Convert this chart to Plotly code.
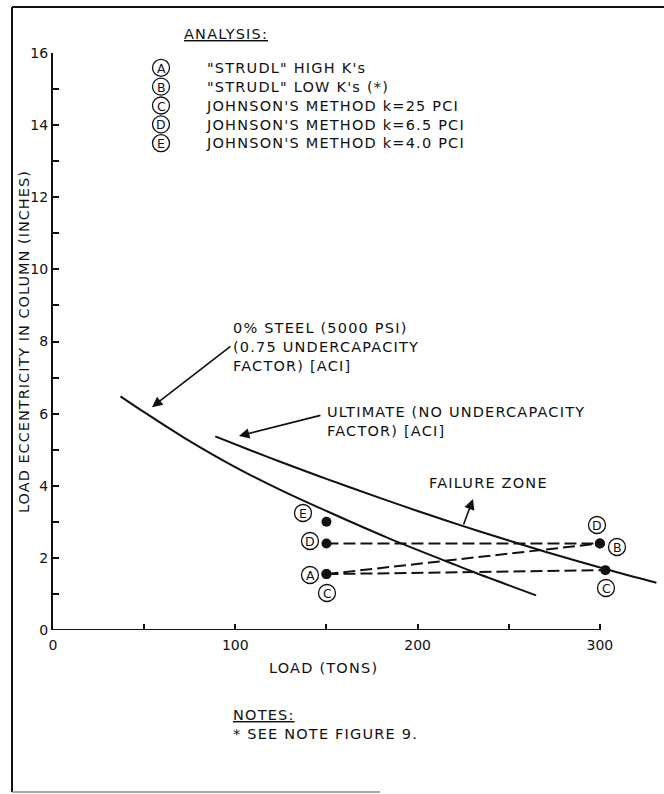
import plotly.graph_objects as go

# ---- data ----
steel_x = [37, 50, 72, 101, 125, 150, 183, 217, 231, 265]
steel_y = [6.48, 6.04, 5.33, 4.49, 3.88, 3.30, 2.57, 1.88, 1.60, 0.96]

ult_x = [89, 110, 125, 150, 180, 200, 225, 250, 270, 303, 331]
ult_y = [5.37, 4.95, 4.66, 4.19, 3.65, 3.30, 2.88, 2.48, 2.17, 1.69, 1.31]

# analysis results (load in tons, eccentricity in inches)
line_D_x = [150, 300]
line_D_y = [2.4, 2.4]
line_AB_x = [150, 300]
line_AB_y = [1.55, 2.4]
line_C_x = [150, 303]
line_C_y = [1.55, 1.66]
point_E_x = [150]
point_E_y = [3.0]

x_tickvals = [0, 50, 100, 150, 200, 250, 300]
x_ticktext = ["0", "", "100", "", "200", "", "300"]
y_tickvals = list(range(0, 17))
y_ticktext = [str(v) if v % 2 == 0 else "" for v in y_tickvals]

legend_letters = ["A", "B", "C", "D", "E"]
legend_texts = ['"STRUDL" HIGH K\'s', '"STRUDL" LOW K\'s (*)',
                "JOHNSON'S METHOD k=25 PCI", "JOHNSON'S METHOD k=6.5 PCI",
                "JOHNSON'S METHOD k=4.0 PCI"]

# ---- layout geometry (pixels) ----
W, H = 664, 794
L, R, T, B = 53, 0, 53, 164
PW, PH = W - L - R, H - T - B
XMAX = PW / 1.823


def px(xp):
    return (xp - L) / PW


def py(yp):
    return (H - B - yp) / PH


FONT = "DejaVu Sans"
BLACK = "#111111"
FS = 14.5
LS = 1.2


def sp(text, ls=LS):
    return '<span style="letter-spacing:%.1fpx">%s</span>' % (ls, text)


def lines(*ls):
    return "<br>".join(sp(l) for l in ls)


fig = go.Figure()

for xs, ys in [(steel_x, steel_y), (ult_x, ult_y)]:
    fig.add_trace(go.Scatter(x=xs, y=ys, mode="lines",
                             line=dict(color=BLACK, width=2, shape="spline", smoothing=1.0),
                             hoverinfo="skip", showlegend=False))

for xs, ys in [(line_D_x, line_D_y), (line_AB_x, line_AB_y), (line_C_x, line_C_y)]:
    fig.add_trace(go.Scatter(x=xs, y=ys, mode="lines+markers",
                             line=dict(color=BLACK, width=2, dash="12px,5px"),
                             marker=dict(color=BLACK, size=10),
                             hoverinfo="skip", showlegend=False))

fig.add_trace(go.Scatter(x=point_E_x, y=point_E_y, mode="markers",
                         marker=dict(color=BLACK, size=10),
                         hoverinfo="skip", showlegend=False))

annots = []
shapes = []


def txt(text, xp, yp, size=FS, xanchor="left", **kw):
    annots.append(dict(text=text, x=px(xp), y=py(yp), xref="paper", yref="paper",
                       xanchor=xanchor, yanchor="middle", showarrow=False, align="left",
                       font=dict(family=FONT, size=size, color=BLACK), **kw))


def circled(letter, xp, yp, r=8.5, size=12.5):
    shapes.append(dict(type="circle", xref="paper", yref="paper",
                       x0=px(xp - r), x1=px(xp + r), y0=py(yp + r), y1=py(yp - r),
                       line=dict(color=BLACK, width=1.3)))
    txt(letter, xp, yp + 0.5, size=size, xanchor="center")


txt("<u>" + sp("ANALYSIS:") + "</u>", 182, 34)

# legend block
LEG_C = 105.5
LEG_STEP = FS * 1.3
leg_y = [LEG_C + (i - 2) * LEG_STEP for i in range(5)]
for letter, yy in zip(legend_letters, leg_y):
    circled(letter, 161, yy)
txt(lines(*legend_texts), 204, LEG_C)

txt(lines("0% STEEL (5000 PSI)", "(0.75 UNDERCAPACITY", "FACTOR) [ACI]"), 231, 347)
txt(lines("ULTIMATE (NO UNDERCAPACITY", "FACTOR) [ACI]"), 325, 422)
txt(sp("FAILURE ZONE"), 427, 483)
txt(sp("LOAD (TONS)"), 323, 668, xanchor="center")
txt("<u>" + sp("NOTES:") + "</u><br>" + sp("* SEE NOTE FIGURE 9."), 231, 724)
txt(sp("LOAD ECCENTRICITY IN COLUMN (INCHES)", 1.0), 24, 342, xanchor="center", textangle=-90)

# point labels
for letter, xx, yy in [("E", 303, 513), ("D", 310, 541), ("A", 310, 575), ("C", 327, 593),
                       ("D", 597, 525), ("B", 617, 547), ("C", 606, 588)]:
    circled(letter, xx, yy)

# arrows (tip in data coords, tail offset in pixels)
for tip_x, tip_y, ax, ay in [(54.3, 6.18, 80, -62), (102, 5.38, 83, -21), (230.4, 3.63, -10, 27)]:
    annots.append(dict(text="", x=tip_x, y=tip_y, xref="x", yref="y", ax=ax, ay=ay,
                       showarrow=True, arrowhead=2, arrowsize=1.3, arrowwidth=1.6,
                       arrowcolor=BLACK))

shapes += [
    # x axis line ending at 300 tons
    dict(type="line", xref="x", yref="y", x0=0, x1=300, y0=0, y1=0,
         line=dict(color=BLACK, width=2)),
    # frame
    dict(type="line", xref="paper", yref="paper", x0=px(12), x1=px(12), y0=py(7), y1=py(792),
         line=dict(color=BLACK, width=2)),
    dict(type="line", xref="paper", yref="paper", x0=px(12), x1=px(664), y0=py(7), y1=py(7),
         line=dict(color=BLACK, width=2)),
    dict(type="line", xref="paper", yref="paper", x0=px(12), x1=px(380), y0=py(792), y1=py(792),
         line=dict(color="#888888", width=1.5)),
]

fig.update_layout(
    width=W, height=H,
    margin=dict(l=L, r=R, t=T, b=B),
    paper_bgcolor="white", plot_bgcolor="white",
    font=dict(family=FONT, size=14, color=BLACK),
    annotations=annots, shapes=shapes, showlegend=False,
    xaxis=dict(range=[0, XMAX], showgrid=False, zeroline=False, showline=False,
               ticks="inside", ticklen=6, tickwidth=2, tickcolor=BLACK,
               tickvals=x_tickvals, ticktext=x_ticktext, ticklabelstandoff=5,
               tickfont=dict(family=FONT, size=14, color=BLACK)),
    yaxis=dict(range=[0, 16], showgrid=False, zeroline=False, showline=True,
               linecolor=BLACK, linewidth=2,
               ticks="inside", ticklen=6, tickwidth=2, tickcolor=BLACK,
               tickvals=y_tickvals, ticktext=y_ticktext,
               tickfont=dict(family=FONT, size=14, color=BLACK)),
)

fig.write_html("out.html")
